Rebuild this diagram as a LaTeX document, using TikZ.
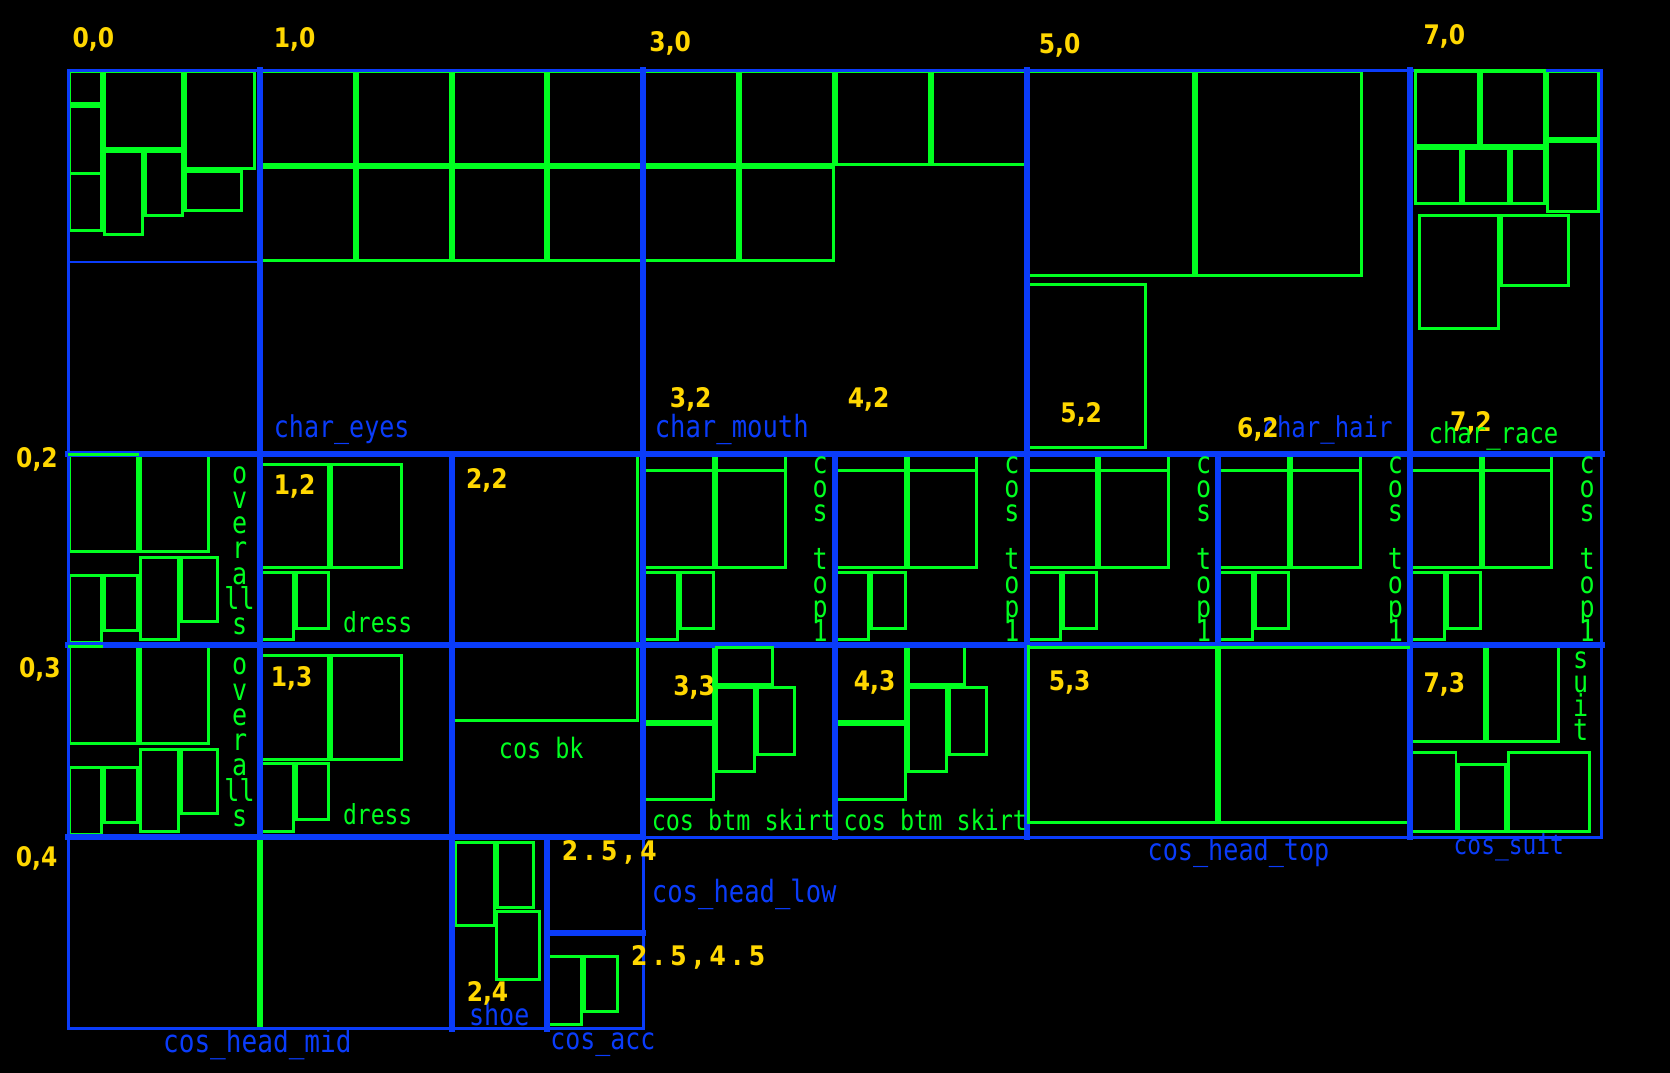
\documentclass[tikz,border=0pt]{standalone}
\usepackage{fontspec}
\newfontfamily\monof{DejaVu Sans Mono}
\newfontfamily\yelf{DejaVu Sans}
\newfontfamily\yelw[LetterSpace=30]{DejaVu Sans}
\definecolor{bl}{HTML}{0A3CFA}
\definecolor{gn}{HTML}{00FF20}
\definecolor{yl}{HTML}{FFD700}
\newcommand\gh{1.4pt}
\newcommand\grect[4]{\draw[grn] ([xshift=\gh,yshift=-\gh]#1,#2) rectangle ([xshift=-\gh,yshift=\gh]#3,#4);}
\newcommand\tl[2]{\fontsize{#1}{#1}\selectfont\scalebox{1}[1.2]{#2}}
\newcommand\yt[1]{\scalebox{1}[1.15]{#1}}
\tikzset{
 grn/.style={draw=gn, line width=2.8pt},
 bthin/.style={draw=bl, line width=2.8pt, line cap=rect},
 bthick/.style={draw=bl, line width=5.6pt, line cap=rect},
 txt/.style={inner sep=0pt, anchor=base west},
 blt/.style={txt, text=bl, font=\monof},
 gnt/.style={txt, text=gn, font=\monof},
 ylt/.style={txt, text=yl, font=\yelf\bfseries\fontsize{22}{22}\selectfont},
 ylw/.style={txt, text=yl, font=\yelw\bfseries\fontsize{22}{22}\selectfont},
 vt/.style={inner sep=0pt, anchor=base, text=gn, font=\monof},
}
\begin{document}
\begin{tikzpicture}[x=180pt,y=-180pt]
\fill[black] (-0.35556,-0.36667) rectangle (8.35556,5.22778);
\useasboundingbox (-0.35556,-0.36667) rectangle (8.35556,5.22778);

% ---------- green rectangles ----------
% cell 0,0
\grect{0}{0}{0.18}{0.18}
\grect{0}{0.18}{0.18}{0.548}
\grect{0}{0.18}{0.18}{0.845}
\grect{0.18}{0}{0.604}{0.416}
\grect{0.18}{0.416}{0.398}{0.864}
\grect{0.398}{0.416}{0.604}{0.767}
\grect{0.604}{0}{0.978}{0.52}
\grect{0.604}{0.52}{0.913}{0.738}
% cell 1,0
\foreach \i in {0,...,3}{\foreach \j in {0,1}{\grect{1+0.5*\i}{0.5*\j}{1.5+0.5*\i}{0.5+0.5*\j}}}
% cell 3,0
\grect{3}{0}{3.5}{0.5}
\grect{3.5}{0}{4}{0.5}
\grect{4}{0}{4.5}{0.5}
\grect{4.5}{0}{5}{0.5}
\grect{3}{0.5}{3.5}{1}
\grect{3.5}{0.5}{4}{1}
% cell 5,0
\grect{5}{0}{5.877}{1.077}
\grect{5.877}{0}{6.755}{1.077}
\grect{5}{1.11}{5.625}{1.975}
% cell 7,0
\grect{7.02}{0}{7.365}{0.4}
\grect{7.365}{0}{7.708}{0.4}
\grect{7.708}{0}{7.988}{0.364}
\grect{7.708}{0.364}{7.988}{0.742}
\grect{7.02}{0.4}{7.27}{0.705}
\grect{7.27}{0.4}{7.52}{0.705}
\grect{7.52}{0.4}{7.708}{0.705}
\grect{7.043}{0.751}{7.47}{1.353}
\grect{7.47}{0.751}{7.832}{1.132}
% cells 0,2 and 0,3
\foreach \r in {2,3}{
 \begin{scope}[shift={(0,\r)}]
 \grect{0}{0}{0.369}{0.519}
 \grect{0.369}{0}{0.74}{0.519}
 \grect{0}{0.628}{0.182}{0.992}
 \grect{0.182}{0.628}{0.369}{0.93}
 \grect{0.369}{0.534}{0.584}{0.978}
 \grect{0.584}{0.534}{0.789}{0.885}
 \end{scope}}
% cells 1,2 and 1,3
\foreach \r in {2,3}{
 \begin{scope}[shift={(1,\r)}]
 \grect{0}{0.047}{0.368}{0.603}
 \grect{0.368}{0.047}{0.744}{0.603}
 \grect{0}{0.61}{0.181}{0.978}
 \grect{0.181}{0.61}{0.368}{0.917}
 \end{scope}}
% cell 2,2
\grect{2}{2}{2.978}{3.4}
% cells 3..7,2 (cos top1)
\foreach \k in {3,...,7}{
 \begin{scope}[shift={(\k,2)}]
 \grect{0}{0.081}{0.373}{0.603}
 \grect{0.373}{0.081}{0.747}{0.603}
 \draw[grn, line width=5.6pt] (0.373,0) -- (0.373,0.081);
 \draw[grn] ([xshift=-\gh]0.747,0) -- ([xshift=-\gh]0.747,0.081);
 \grect{0}{0.61}{0.185}{0.978}
 \grect{0.185}{0.61}{0.373}{0.917}
 \end{scope}}
% cells 3,3 and 4,3 (cos btm skirt)
\foreach \k in {3,4}{
 \begin{scope}[shift={(\k,3)}]
 \grect{0}{0}{0.373}{0.403}
 \grect{0}{0.403}{0.373}{0.81}
 \grect{0.373}{0}{0.681}{0.213}
 \grect{0.373}{0.213}{0.59}{0.667}
 \grect{0.59}{0.213}{0.796}{0.575}
 \end{scope}}
% cell 5,3 (head top)
\grect{5}{3}{6}{3.93}
\grect{6}{3}{7}{3.93}
% cell 7,3 (suit)
\begin{scope}[shift={(7,3)}]
 \grect{0}{0}{0.396}{0.51}
 \grect{0.396}{0}{0.781}{0.51}
 \grect{0}{0.549}{0.247}{0.98}
 \grect{0.247}{0.612}{0.504}{0.98}
 \grect{0.504}{0.549}{0.942}{0.98}
\end{scope}
% cell 0,4 (head mid)
\draw[grn, line width=5.6pt] (1,4) -- (1,5);
% cell 2,4 (shoe)
\grect{2.015}{4.019}{2.234}{4.467}
\grect{2.234}{4.019}{2.433}{4.375}
\grect{2.225}{4.38}{2.465}{4.749}
% cell 2.5,4.5 (acc)
\grect{2.5}{4.615}{2.684}{4.983}
\grect{2.684}{4.615}{2.873}{4.919}

% ---------- blue lines ----------
\draw[bthin, line join=miter] (0,0) -- (8,0) -- (8,4) -- (3,4) -- (3,5) -- (0,5) -- cycle;
\draw[bthin] (0,1) -- (1,1);
\draw[bthick] (0,4) -- (3,4);
\draw[bthick] (0,2) -- (8,2);
\draw[bthick] (0,3) -- (8,3);
\draw[bthick] (1,0) -- (1,4);
\draw[bthick] (3,0) -- (3,4);
\draw[bthick] (5,0) -- (5,4);
\draw[bthick] (7,0) -- (7,4);
\draw[bthick] (2,2) -- (2,5);
\draw[bthick] (4,2) -- (4,4);
\draw[bthick] (6,2) -- (6,3);
\draw[bthick] (2.5,4) -- (2.5,5);
\draw[bthick] (2.5,4.5) -- (3,4.5);

% green edges that lie over the blue lines
\draw[grn] (7.02,0) -- (7.708,0);
\draw[grn] (0,2.006) -- (0.369,2.006);
\draw[grn] (0,3.006) -- (0.182,3.006);
\draw[grn] (3.373,3.009) -- (3.681,3.009);
\draw[grn] (5,3.009) -- (7,3.009);
\draw[grn] (5.009,3) -- (5.009,3.93);

% ---------- blue labels ----------
\node[blt] (lbeyes) at (1.072,1.917) {\tl{23.5}{char\_eyes}};
\node[blt] (lbmouth) at (3.059,1.917) {\tl{24}{char\_mouth}};
\node[blt, anchor=base east] (lbhair) at (6.909,1.917) {\tl{22.5}{char\_hair}};
\node[blt] (lbhtop) at (5.63,4.122) {\tl{23.6}{cos\_head\_top}};
\node[blt] (lbsuit) at (7.226,4.093) {\tl{21.5}{cos\_suit}};
\node[blt] (lbhlow) at (3.044,4.342) {\tl{24}{cos\_head\_low}};
\node[blt] (lbhmid) at (0.494,5.122) {\tl{24.5}{cos\_head\_mid}};
\node[blt] (lbacc) at (2.514,5.107) {\tl{23.4}{cos\_acc}};
\node[blt] (lbshoe) at (2.09,4.98) {\tl{23.5}{shoe}};

% ---------- green labels ----------
\node[gnt] (gdress2) at (1.433,2.934) {\tl{21.6}{dress}};
\node[gnt] (gdress3) at (1.433,3.934) {\tl{21.6}{dress}};
\node[gnt] (gbk) at (2.246,3.589) {\tl{22}{cos bk}};
\node[gnt] (gskirt3) at (3.043,3.963) {\tl{22}{cos btm skirt}};
\node[gnt] (gskirt4) at (4.044,3.963) {\tl{22}{cos btm skirt}};
\foreach \r in {2,3}{
 \foreach \c/\i in {o/0,v/1,e/2,r/3,a/4,ll/5,s/6}{
  \node[vt] (ov\r-\i) at (0.894,\r+0.154+0.1317*\i) {\tl{23.5}{\c}};}}
\foreach \k in {3,...,7}{
 \foreach \c/\i in {c/0,o/1,s/2,t/4,o/5,p/6,1/7}{
  \node[vt] (ct\k-\i) at (\k+0.923,2.102+0.1256*\i) {\tl{23.5}{\c}};}}
\foreach \c/\i in {s/0,u/1,i/2,t/3}{
  \node[vt] (su\i) at (7.89,3.119+0.125*\i) {\tl{23.5}{\c}};}

% ---------- yellow labels ----------
\node[ylt] (y00) at (0.022,-0.118) {\yt{0,0}};
\node[ylt] (y10) at (1.072,-0.118) {\yt{1,0}};
\node[ylt] (y30) at (3.031,-0.100) {\yt{3,0}};
\node[ylt] (y50) at (5.062,-0.088) {\yt{5,0}};
\node[ylt] (y70) at (7.069,-0.135) {\yt{7,0}};
\node[ylt] (y02) at (-0.272,2.073) {\yt{0,2}};
\node[ylt] (y03) at (-0.257,3.168) {\yt{0,3}};
\node[ylt] (y04) at (-0.274,4.154) {\yt{0,4}};
\node[ylt] (y12) at (1.072,2.215) {\yt{1,2}};
\node[ylt] (y13) at (1.056,3.215) {\yt{1,3}};
\node[ylt] (y22) at (2.075,2.184) {\yt{2,2}};
\node[ylt] (y32) at (3.138,1.760) {\yt{3,2}};
\node[ylt] (y42) at (4.066,1.760) {\yt{4,2}};
\node[ylt] (y52) at (5.175,1.838) {\yt{5,2}};
\node[ylt] (y62) at (6.097,1.917) {\yt{6,2}};
\node[ylt] (y72) at (7.208,1.885) {\yt{7,2}};
\node[ylt] (y33) at (3.156,3.262) {\yt{3,3}};
\node[ylt] (y43) at (4.097,3.233) {\yt{4,3}};
\node[ylt] (y53) at (5.115,3.233) {\yt{5,3}};
\node[ylt] (y73) at (7.069,3.247) {\yt{7,3}};
\node[ylt] (y24) at (2.078,4.858) {\yt{2,4}};
\node[ylw] (y254) at (2.574,4.123) {\yt{2.5,4}};
\node[ylw] (y2545) at (2.935,4.671) {\yt{2.5,4.5}};

% char_race drawn over 7,2
\node[gnt] (grace) at (7.095,1.946) {\tl{22.5}{char\_race}};
\end{tikzpicture}
\end{document}
